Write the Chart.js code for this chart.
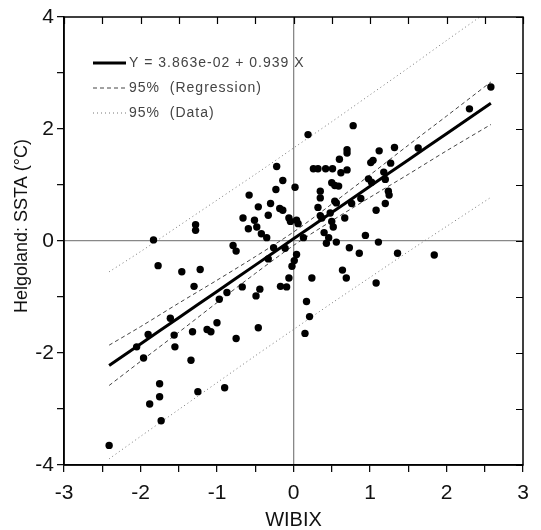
<!DOCTYPE html>
<html>
<head>
<meta charset="utf-8">
<script src="https://cdn.jsdelivr.net/npm/chart.js@4/dist/chart.umd.min.js"></script>
<style>
  html, body { margin: 0; padding: 0; background: #fff; }
  #wrap { width: 541px; height: 530px; position: relative; }
</style>
</head>
<body>
<div id="wrap"><canvas id="c" width="541" height="530"></canvas></div>
<script>
// Scatter data: WIBIX (x) vs Helgoland SSTA (y)
const wibix = [
  -2.41, -1.88, -1.75, -1.75, -1.73, -1.25, -0.90, -1.34, -2.05, -1.96,
  -1.90, -1.56, -1.55, -1.61, -1.32, -1.13, -1.08, -1.00, -0.75, -0.46,
  -1.30, -0.97, -0.87, -0.67, -0.49, -0.44, -0.17, -0.09, -0.06, -0.02,
   0.01,  0.04, -0.33, -0.26, -0.11, -1.77, -1.46, -1.22, -0.79, -0.75,
  -1.83, -1.28, -1.28, -0.42, -0.35, -0.59, -0.48, -0.66, -0.51, -0.33,
  -0.46, -0.30, -0.58, -0.23, -0.14, -0.22,  0.02, -0.18, -0.14, -0.06,
  -0.04,  0.04,  0.06,  0.13,  0.19,  0.17,  0.21,  0.15,  0.24,  0.64,
   0.69,  1.08,  0.73,  0.86,  1.36,  1.84,  0.56,  0.43,  0.46,  0.40,
   0.94,  1.11,  0.52,  0.50,  0.48,  0.35,  0.37,  0.67,  0.32,  0.54,
   0.56,  0.76,  0.88,  1.08,  1.20,  1.24,  1.25,  0.35,  0.35,  0.50,
   0.54,  0.59,  0.98,  1.02,  1.18,  1.20,  0.26,  0.32,  0.42,  0.51,
   0.62,  0.70,  0.60,  0.70,  0.70,  1.04,  1.01,  1.27,  1.12,  1.32,
   1.63,  0.78,  2.30,  2.58
];
const ssta = [
  -3.65, -2.91, -2.78, -2.55, -3.21, -2.69, -2.62, -2.13, -1.89, -2.09,
  -1.67, -1.68, -1.89, -1.38, -1.62, -1.58, -1.62, -1.46, -1.74, -1.55,
  -0.81, -1.04, -0.92, -0.82, -0.98, -0.86, -0.81, -0.82, -0.66, -0.45,
  -0.35, -0.24, -0.32, -0.12, -0.13, -0.44, -0.55, -0.51, -0.08, -0.18,
   0.02,  0.29,  0.19,  0.13,  0.06,  0.22,  0.25,  0.41,  0.37,  0.46,
   0.61,  0.67,  0.82,  0.92,  1.08,  1.33,  0.96,  0.58,  0.55,  0.41,
   0.35,  0.37,  0.31,  0.06,  1.90, -1.08, -1.35, -1.65, -0.66, -0.52,
  -0.66, -0.75, -0.12, -0.22, -0.22, -0.25, -0.02, -0.04,  0.06,  0.15,
   0.10, -0.02,  0.25,  0.35,  0.50,  0.45,  0.41,  0.41,  0.60,  0.71,
   0.68,  0.67,  0.76,  0.55,  0.67,  0.89,  0.82,  0.89,  0.77,  1.04,
   0.99,  0.98,  1.11,  1.05,  1.23,  1.10,  1.29,  1.29,  1.29,  1.29,
   1.22,  1.27,  1.46,  1.63,  1.57,  1.44,  1.40,  1.39,  1.61,  1.67,
   1.66,  2.06,  2.36,  2.75
];

// Fitted line and 95% bands, read at these WIBIX positions
const fitX     = [-2.41, -2.0, -1.5, -1.0, -0.5, 0.0, 0.5, 1.0, 1.5, 2.0, 2.58];
const fitY     = [-2.224, -1.839, -1.370, -0.900, -0.431, 0.039, 0.508, 0.978, 1.447, 1.917, 2.461];
const confUp   = [-1.86, -1.53, -1.11, -0.70, -0.28, 0.16, 0.66, 1.18, 1.71, 2.23, 2.84];
const confLow  = [-2.58, -2.15, -1.63, -1.10, -0.58, -0.08, 0.36, 0.78, 1.19, 1.61, 2.08];
const predUp   = [-0.55, -0.19, 0.27, 0.73, 1.19, 1.66, 2.13, 2.61, 3.09, 3.58, 4.14];
const predLow  = [-3.89, -3.49, -3.01, -2.53, -2.05, -1.58, -1.11, -0.65, -0.19, 0.26, 0.78];

const legendLabels = ['Y = 3.863e-02 + 0.939 X', '95%  (Regression)', '95%  (Data)'];
const xTitle = 'WIBIX';
const yTitle = 'Helgoland: SSTA (°C)';

const FONT = '"Liberation Sans", Arial, sans-serif';
const pts = (xs, ys) => xs.map((x, i) => ({ x: x, y: ys[i] }));

const lineStyles = [
  { color: '#000', width: 3, dash: [] },
  { color: '#444', width: 1, dash: [4, 3] },
  { color: '#777', width: 1, dash: [1, 3] }
];

const framePlugin = {
  id: 'frame',
  afterDraw(chart) {
    const ctx = chart.ctx;
    const a = chart.chartArea;
    const xs = chart.scales.x, ys = chart.scales.y;
    ctx.save();
    ctx.strokeStyle = '#000';
    ctx.lineWidth = 1.5;
    ctx.strokeRect(a.left, a.top, a.right - a.left, a.bottom - a.top);
    ctx.lineWidth = 1.2;
    ctx.beginPath();
    xs.ticks.forEach(t => {
      const px = Math.round(xs.getPixelForValue(t.value)) + 0.5;
      ctx.moveTo(px, a.top);
      ctx.lineTo(px, a.top + 7);
    });
    ys.ticks.forEach(t => {
      const py = Math.round(ys.getPixelForValue(t.value)) + 0.5;
      ctx.moveTo(a.right, py);
      ctx.lineTo(a.right - 7, py);
    });
    ctx.stroke();

    // y-axis title (rotated)
    ctx.save();
    ctx.translate(22, 226);
    ctx.rotate(-Math.PI / 2);
    ctx.font = '18px ' + FONT;
    ctx.fillStyle = '#111';
    ctx.textAlign = 'center';
    ctx.textBaseline = 'middle';
    ctx.fillText(yTitle, 0, 0);
    ctx.restore();

    // legend inside plot
    const lx0 = 93, lx1 = 126, tx = 129;
    const ly = [63, 88, 113];
    ctx.font = '14px ' + FONT;
    ctx.letterSpacing = '1px';
    ctx.fillStyle = '#444';
    ctx.textBaseline = 'middle';
    ctx.textAlign = 'left';
    legendLabels.forEach((lab, i) => {
      const s = lineStyles[i];
      ctx.beginPath();
      ctx.strokeStyle = s.color;
      ctx.lineWidth = s.width;
      ctx.setLineDash(s.dash);
      ctx.moveTo(lx0, ly[i]);
      ctx.lineTo(lx1, ly[i]);
      ctx.stroke();
      ctx.setLineDash([]);
      ctx.fillText(lab, tx, ly[i]);
    });
    ctx.restore();
  }
};

const lineDs = (label, ys, idx) => ({
  type: 'line',
  label: label,
  data: pts(fitX, ys),
  borderColor: lineStyles[idx].color,
  borderWidth: lineStyles[idx].width,
  borderDash: lineStyles[idx].dash,
  pointRadius: 0,
  fill: false,
  tension: 0.3,
  clip: 0
});

new Chart(document.getElementById('c'), {
  type: 'scatter',
  data: {
    datasets: [
      {
        label: 'SSTA',
        data: pts(wibix, ssta),
        backgroundColor: '#000',
        borderColor: '#000',
        pointRadius: 3.7,
        pointBorderWidth: 0
      },
      lineDs(legendLabels[0], fitY, 0),
      lineDs(legendLabels[1], confUp, 1),
      lineDs(legendLabels[1], confLow, 1),
      lineDs(legendLabels[2], predUp, 2),
      lineDs(legendLabels[2], predLow, 2)
    ]
  },
  options: {
    responsive: false,
    animation: false,
    layout: { padding: { top: 17, right: 18, left: 0, bottom: 0 } },
    plugins: { legend: { display: false }, tooltip: { enabled: false } },
    scales: {
      x: {
        type: 'linear',
        min: -3, max: 3,
        afterFit: s => { s.height = 65; },
        afterBuildTicks: s => {
          const t = [];
          for (let v = -3; v <= 3.001; v += 0.5) t.push({ value: Math.round(v * 10) / 10 });
          s.ticks = t;
        },
        ticks: {
          autoSkip: false, maxRotation: 0, padding: 9,
          color: '#111',
          font: { family: FONT, size: 21 },
          callback: v => Number.isInteger(v) ? String(v) : ''
        },
        grid: {
          drawOnChartArea: true,
          tickLength: 7,
          tickColor: '#000',
          tickWidth: 1.2,
          color: c => (c.tick && c.tick.value === 0) ? '#888' : 'rgba(0,0,0,0)',
          lineWidth: 1.3
        },
        border: { display: true, color: '#000', width: 1.5 },
        title: {
          display: true, text: xTitle, color: '#111',
          font: { family: FONT, size: 20, lineHeight: 1 },
          padding: { top: 0, bottom: 0 }
        }
      },
      y: {
        type: 'linear',
        min: -4, max: 4,
        afterFit: s => { s.width = 64; },
        afterBuildTicks: s => {
          const t = [];
          for (let v = -4; v <= 4; v += 1) t.push({ value: v });
          s.ticks = t;
        },
        ticks: {
          autoSkip: false, padding: 3,
          color: '#111',
          font: { family: FONT, size: 21 },
          callback: v => (v % 2 === 0) ? String(v) : ''
        },
        grid: {
          drawOnChartArea: true,
          tickLength: 7,
          tickColor: '#000',
          tickWidth: 1.2,
          color: c => (c.tick && c.tick.value === 0) ? '#888' : 'rgba(0,0,0,0)',
          lineWidth: 1.3
        },
        border: { display: true, color: '#000', width: 1.5 },
        title: { display: false }
      }
    }
  },
  plugins: [framePlugin]
});
</script>
</body>
</html>
